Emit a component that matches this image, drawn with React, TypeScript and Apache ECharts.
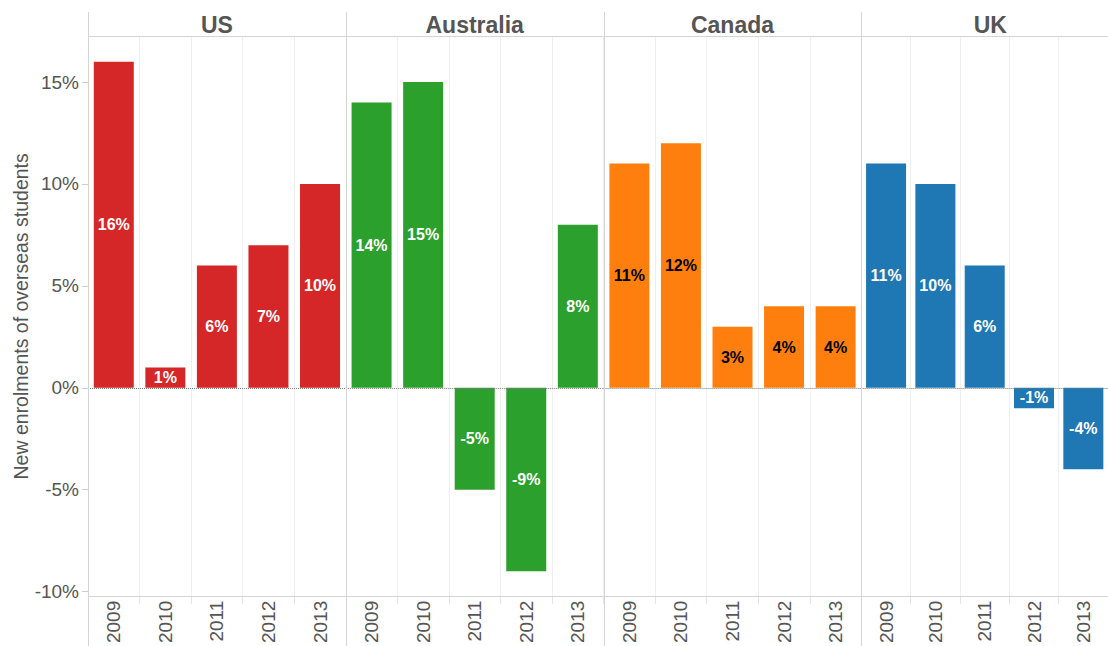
import React, { useEffect, useRef } from "react";
import * as echarts from "echarts";

const countries = ["US", "Australia", "Canada", "UK"];
const years = ["2009", "2010", "2011", "2012", "2013"];
const usValues = [16, 1, 6, 7, 10];
const australiaValues = [14, 15, -5, -9, 8];
const canadaValues = [11, 12, 3, 4, 4];
const ukValues = [11, 10, 6, -1, -4];
const seriesValues = [usValues, australiaValues, canadaValues, ukValues];
const colors = ["#d62728", "#2ca02c", "#ff7f0e", "#1f77b4"];
const labelColors = ["#ffffff", "#ffffff", "#000000", "#ffffff"];
const yTicks = [-10, -5, 0, 5, 10, 15];
const yMin = -10.25;
const yMax = 17.26;
const yAxisTitle = "New enrolments of overseas students";

const W = 1108;
const H = 646;
const LEFT = 88;
const PANEL_W = 257.8;
const TOP = 36;
const PLOT_BOTTOM = 599;
const HEADER_TOP = 12;
const FONT = "Arial, 'Liberation Sans', sans-serif";
const TEXT_COLOR = "#555555";
const DIVIDER = "#d4d4d4";

export default function App() {
  const ref = useRef<HTMLDivElement>(null);
  useEffect(() => {
    if (!ref.current) return;
    const chart = echarts.init(ref.current, undefined, { renderer: "svg" });

    const grids = countries.map((_, i) => ({
      left: LEFT + i * PANEL_W,
      width: PANEL_W,
      top: TOP,
      height: PLOT_BOTTOM - TOP,
      containLabel: false,
    }));

    const xAxes = countries.map((_, i) => ({
      type: "category",
      gridIndex: i,
      data: years,
      axisLine: { show: true, onZero: false, lineStyle: { color: DIVIDER, width: 1 } },
      axisTick: { show: true, length: 7, interval: 0, lineStyle: { color: "#e3e3e3" } },
      splitLine: { show: true, interval: 0, lineStyle: { color: "#efefef", width: 1 } },
      axisLabel: {
        show: true,
        rotate: 90,
        interval: 0,
        margin: 4,
        fontSize: 19,
        color: TEXT_COLOR,
        fontFamily: FONT,
      },
    }));

    const yAxes = countries.map((_, i) => ({
      type: "value",
      gridIndex: i,
      min: yMin,
      max: yMax,
      splitLine: { show: false },
      axisLine: { show: false },
      axisTick: {
        show: i === 0,
        length: 6,
        customValues: yTicks,
        lineStyle: { color: "#cccccc" },
      },
      axisLabel: {
        show: i === 0,
        customValues: yTicks,
        formatter: (v: number) => `${v}%`,
        fontSize: 19,
        color: TEXT_COLOR,
        fontFamily: FONT,
        margin: 9,
      },
      name: i === 0 ? yAxisTitle : "",
      nameLocation: "middle",
      nameGap: 56,
      nameTextStyle: { fontSize: 19.5, color: TEXT_COLOR, fontFamily: FONT },
    }));

    const series = countries.map((c, i) => ({
      name: c,
      type: "bar",
      xAxisIndex: i,
      yAxisIndex: i,
      data: seriesValues[i],
      barWidth: 40,
      itemStyle: { color: colors[i] },
      label: {
        show: true,
        position: "inside",
        formatter: (p: any) => `${p.value}%`,
        color: labelColors[i],
        fontWeight: "bold",
        fontSize: 16,
        fontFamily: FONT,
      },
      markLine: {
        silent: true,
        symbol: "none",
        label: { show: false },
        lineStyle: { type: "dotted", color: "#7a7a7a", width: 1 },
        data: [{ yAxis: 0 }],
        z: 5,
      },
    }));

    const graphics: any[] = [];
    for (let i = 0; i <= countries.length; i++) {
      const x = Math.round(LEFT + i * PANEL_W) + 0.5;
      graphics.push({
        type: "line",
        silent: true,
        z: 10,
        shape: { x1: x, y1: HEADER_TOP, x2: x, y2: H },
        style: { stroke: DIVIDER, lineWidth: 1 },
      });
    }
    graphics.push({
      type: "line",
      silent: true,
      z: 10,
      shape: { x1: LEFT, y1: TOP + 0.5, x2: W, y2: TOP + 0.5 },
      style: { stroke: DIVIDER, lineWidth: 1 },
    });
    countries.forEach((c, i) => {
      graphics.push({
        type: "text",
        silent: true,
        x: LEFT + i * PANEL_W + PANEL_W / 2,
        y: (HEADER_TOP + TOP) / 2 + 1,
        style: {
          text: c,
          fill: TEXT_COLOR,
          font: `bold 23px ${FONT}`,
          textAlign: "center",
          textVerticalAlign: "middle",
        },
      });
    });

    chart.setOption({
      animation: false,
      backgroundColor: "#ffffff",
      grid: grids,
      xAxis: xAxes,
      yAxis: yAxes,
      series,
      graphic: graphics,
    });
    return () => chart.dispose();
  }, []);

  return (
    <div
      ref={ref}
      style={{ position: "fixed", left: 0, top: 0, width: W, height: H }}
    />
  );
}
